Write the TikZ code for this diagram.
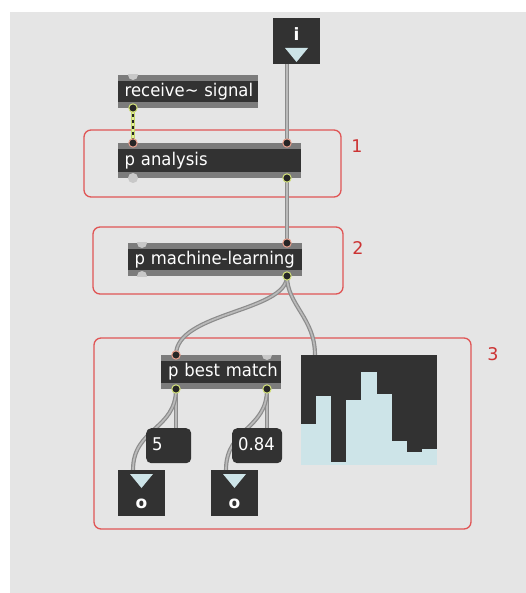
\documentclass[tikz,border=0pt]{standalone}
\usepackage{fontspec}
\setmainfont{DejaVu Sans}
\newfontfamily\boxfont[FakeStretch=0.94]{DejaVu Sans}
\usetikzlibrary{calc}

\definecolor{patchbg}{HTML}{E5E5E5}
\definecolor{objdark}{HTML}{323232}
\definecolor{objband}{HTML}{7C7C7C}
\definecolor{portgray}{HTML}{C8C8C8}
\definecolor{portdark}{HTML}{262626}
\definecolor{inring}{HTML}{E9A08E}
\definecolor{outring}{HTML}{D4E27A}
\definecolor{cordgray}{HTML}{8C8C8C}
\definecolor{cordlight}{HTML}{BABABA}
\definecolor{sigedge}{HTML}{C2D66A}
\definecolor{sigfill}{HTML}{E4EE98}
\definecolor{panelred}{HTML}{E05555}
\definecolor{labelred}{HTML}{CC3333}
\definecolor{meterblue}{HTML}{CDE4E8}

\newcommand\inport[1]{\filldraw[fill=portdark, draw=inring, line width=1pt] (#1) circle (4.2pt);}
\newcommand\outport[1]{\filldraw[fill=portdark, draw=outring, line width=1pt] (#1) circle (4.2pt);}
% unconnected port: a grey disc clipped to its box
\newcommand\idleport[2]{\begin{scope}\clip (#1.north west) rectangle (#1.south east);\fill[portgray] (#2) circle (5pt);\end{scope}}

\begin{document}
\begin{tikzpicture}[x=1pt, y=-1pt,
  font=\boxfont\fontsize{17.5}{20}\selectfont,
  objbox/.style={anchor=north west, inner sep=0pt, fill=objband, text=white,
    align=left, text height=13pt, text depth=4pt,
    path picture={\fill[objdark] ([yshift=-6pt]path picture bounding box.north west)
      rectangle ([yshift=6pt]path picture bounding box.south east);}},
  numbox/.style={anchor=north west, inner sep=0pt, fill=objdark, rounded corners=5pt,
    text=white, align=left, text height=13pt, text depth=4pt,
    minimum height=35pt},
  iobox/.style={anchor=north west, inner sep=0pt, fill=objdark,
    minimum width=47pt, minimum height=46pt},
  tri/.style={fill=meterblue},
  iolabel/.style={text=white, font=\fontsize{17}{20}\selectfont\bfseries, inner sep=0pt},
  panel/.style={draw=panelred, line width=1.3pt, rounded corners=7pt},
  numlabel/.style={text=labelred, font=\fontsize{17.5}{20}\selectfont, inner sep=0pt},
  cord/.style={draw=cordgray, line width=1.2pt, double=cordlight, double distance=1.7pt},
]
\useasboundingbox (0,0) rectangle (526,593);
\fill[white] (0,0) rectangle (526,593);
\fill[patchbg] (10,12) rectangle (526,593);

% grouping panels and their numbers
\draw[panel] (84,130) rectangle (341,197);
\draw[panel] (93,227) rectangle (343,294);
\draw[panel] (94,338) rectangle (471,529);
\node[numlabel] (lab1) at (357,146) {1};
\node[numlabel] (lab2) at (358,248) {2};
\node[numlabel] (lab3) at (493,354) {3};

% inlet / outlet positions
\coordinate (i-out)     at (287,64);
\coordinate (rcv-out)   at (133,108);
\coordinate (ana-in1)   at (133,143);
\coordinate (ana-in2)   at (287,143);
\coordinate (ana-out2)  at (287,178);
\coordinate (ml-in2)    at (287,243);
\coordinate (ml-out2)   at (287,276);
\coordinate (bm-in1)    at (176,355);
\coordinate (bm-out1)   at (176,389);
\coordinate (bm-out2)   at (267,389);
\coordinate (hist-in)   at (315,355);
\coordinate (nb5-in)    at (176,428);
\coordinate (nb84-in)   at (267,428);
\coordinate (o1-in)     at (133,470);
\coordinate (o2-in)     at (226,470);

% patch cords
\draw[cord] (i-out) -- (ana-in2);
\draw[cord] (ana-out2) -- (ml-in2);
\draw[cord] (ml-out2) .. controls (287,312) and (176,312) .. (bm-in1);
\draw[cord] (ml-out2) .. controls (287,305) and (315,318) .. (hist-in);
\draw[cord] (bm-out1) -- (nb5-in);
\draw[cord] (bm-out2) -- (nb84-in);
\draw[cord] (bm-out1) .. controls (176,430) and (133,428) .. (o1-in);
\draw[cord] (bm-out2) .. controls (267,430) and (226,428) .. (o2-in);
% signal cord
\draw[sigedge, line width=3.8pt] (rcv-out) -- (ana-in1);
\draw[sigfill, line width=2pt] (rcv-out) -- (ana-in1);
\draw[portdark, line width=2pt, dash pattern=on 3.5pt off 2.5pt] (rcv-out) -- (ana-in1);

% input number box
\node[iobox] (ibox) at (273,18) {};
\node[iolabel] (ilab) at (296.5,34) {i};
\fill[tri] (285,48) -- (308,48) -- (296.5,62) -- cycle;

% objects
\node[objbox, minimum width=140pt, minimum height=33pt, text width=127pt] (rcv) at (118,75) {\mbox{receive\char`~{} signal}};
\node[objbox, minimum width=183pt, minimum height=35pt, text width=170pt] (ana) at (118,143) {\mbox{p analysis}};
\node[objbox, minimum width=174pt, minimum height=33pt, text width=161pt] (ml) at (128,243) {\mbox{p machine-learning}};
\node[objbox, minimum width=120pt, minimum height=34pt, text width=106pt] (bm) at (161,355) {\mbox{p best match}};

% multislider
\node[anchor=north west, inner sep=0pt, fill=objdark, minimum width=136pt, minimum height=110pt] (hist) at (301,355) {};
\foreach \i/\t in {0/424,1/396,2/462,3/400,4/372,5/394,6/441,7/452,8/449}
  \fill[meterblue] ({301+15.1*\i},\t) rectangle ({301+15.1*(\i+1)},465);

% number boxes
\node[numbox, minimum width=45pt, text width=33pt] (nb5) at (146,428) {5};
\node[numbox, minimum width=50pt, text width=38pt] (nb84) at (232,428) {\mbox{0.84}};

% output boxes
\node[iobox] (o1) at (118,470) {};
\fill[tri] (130,474) -- (153,474) -- (141.5,488) -- cycle;
\node[iolabel] (o1lab) at (141.5,504) {o};
\node[iobox] (o2) at (211,470) {};
\fill[tri] (223,474) -- (246,474) -- (234.5,488) -- cycle;
\node[iolabel] (o2lab) at (234.5,504) {o};

% ports
\idleport{rcv}{133,75}
\outport{rcv-out}
\inport{ana-in1}
\inport{ana-in2}
\fill[portgray] (133,178) circle (5pt);
\outport{ana-out2}
\idleport{ml}{142,243}
\idleport{ml}{142,276}
\inport{ml-in2}
\outport{ml-out2}
\inport{bm-in1}
\idleport{bm}{267,355}
\outport{bm-out1}
\outport{bm-out2}
\end{tikzpicture}
\end{document}
